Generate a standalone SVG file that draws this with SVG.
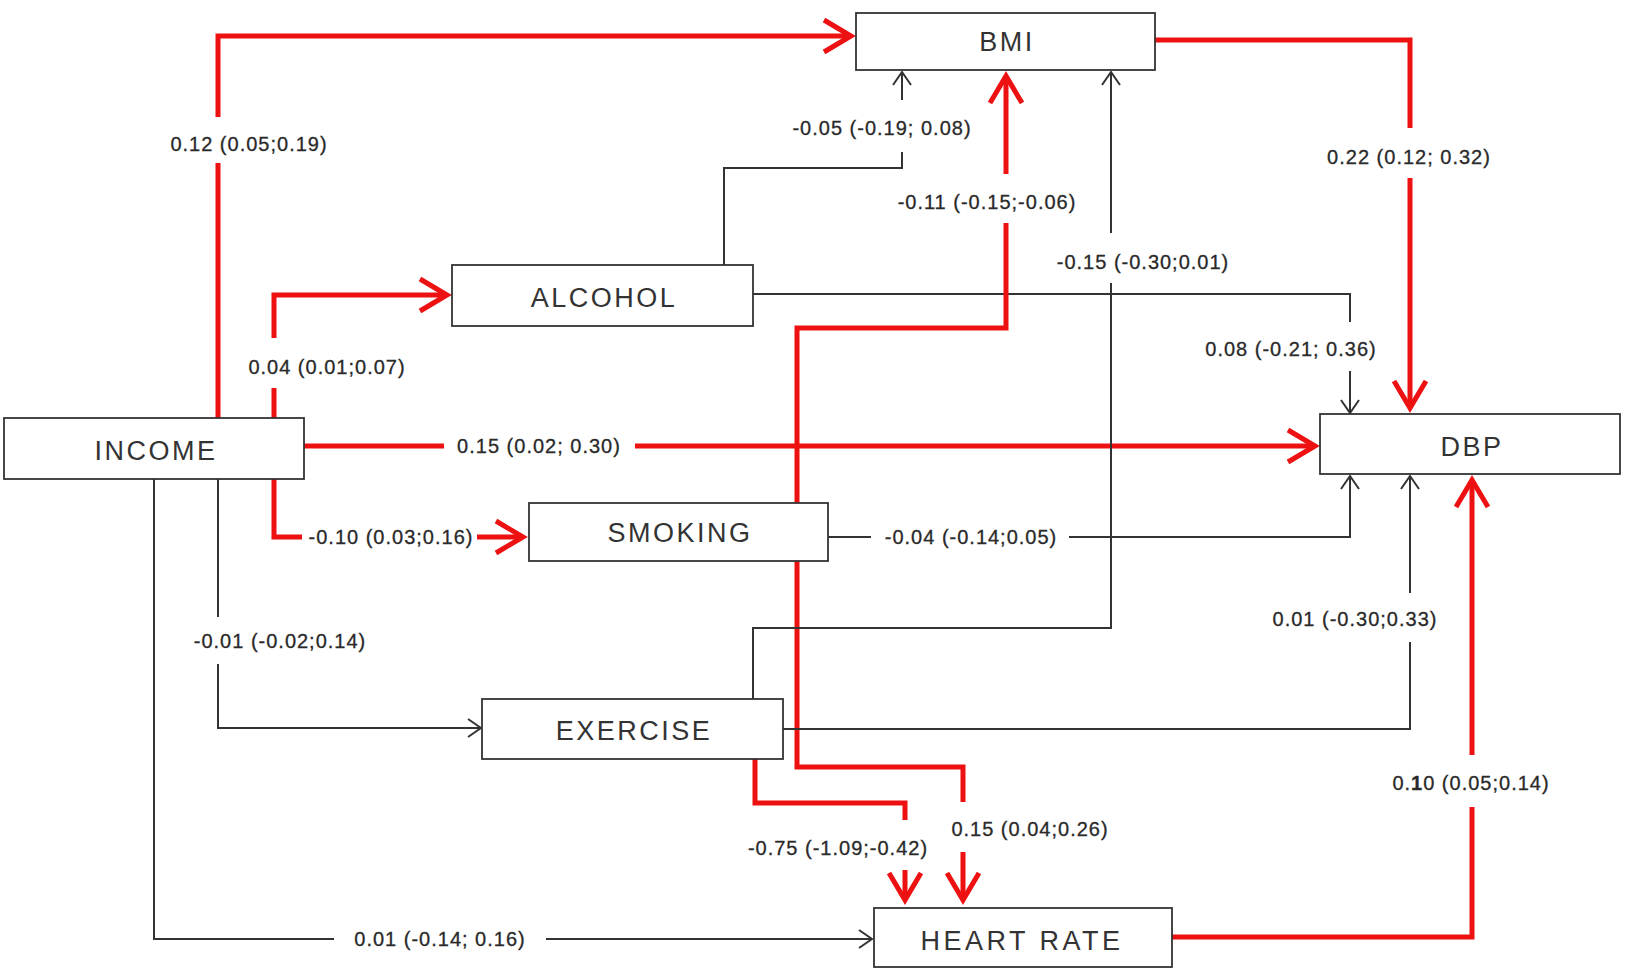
<svg xmlns="http://www.w3.org/2000/svg" width="1630" height="969" viewBox="0 0 1630 969">
<style>
.box{fill:#fff;stroke:#333;stroke-width:1.8}
.nt{font-family:"Liberation Sans",Arial,sans-serif;font-size:27px;fill:#333;text-anchor:middle;letter-spacing:2.5px}
.lb{font-family:"Liberation Sans",Arial,sans-serif;font-size:20px;fill:#2a2a2a;stroke:#2a2a2a;stroke-width:0.3;text-anchor:middle;letter-spacing:1px}
.r{fill:none;stroke:#ee1111;stroke-width:5}
.k{fill:none;stroke:#333;stroke-width:2}
</style>
<defs>
<marker id="ar" viewBox="-34 -22 40 44" refX="0" refY="0" markerWidth="40" markerHeight="44" markerUnits="userSpaceOnUse" orient="auto">
<path d="M-27,-16 L0,0 L-27,16" fill="none" stroke="#ee1111" stroke-width="5"/>
</marker>
<marker id="ak" viewBox="-18 -12 22 24" refX="0" refY="0" markerWidth="22" markerHeight="24" markerUnits="userSpaceOnUse" orient="auto">
<path d="M-13,-9 L0,0 L-13,9" fill="none" stroke="#333" stroke-width="2"/>
</marker>
</defs>
<rect width="1630" height="969" fill="#fff"/>
<g id="connectors">
<path class="r" d="M218,418 L218,163 M218,117 L218,36 L851,36" marker-end="url(#ar)"/>
<path class="r" d="M274,418 L274,388 M274,338 L274,295 L447,295" marker-end="url(#ar)"/>
<path class="r" d="M304,446 L444,446 M635,446 L1315,446" marker-end="url(#ar)"/>
<path class="r" d="M274,479 L274,537 L302,537 M477,537 L523,537" marker-end="url(#ar)"/>
<path class="k" d="M218,479 L218,617 M218,664 L218,728 L481,728" marker-end="url(#ak)"/>
<path class="k" d="M154,479 L154,939 L334,939 M546,939 L872,939" marker-end="url(#ak)"/>
<path class="k" d="M724,265 L724,168 L902,168 L902,152 M902,100 L902,72" marker-end="url(#ak)"/>
<path class="k" d="M753,294 L1350,294 L1350,322 M1350,371 L1350,413" marker-end="url(#ak)"/>
<path class="r" d="M797,503 L797,328 L1006,328 L1006,223 M1006,174 L1006,76" marker-end="url(#ar)"/>
<path class="r" d="M797,561 L797,767 L963,767 L963,802 M963,852 L963,900" marker-end="url(#ar)"/>
<path class="k" d="M828,537 L871,537 M1069,537 L1350,537 L1350,476" marker-end="url(#ak)"/>
<path class="k" d="M753,699 L753,628 L1111,628 L1111,283 M1111,233 L1111,72" marker-end="url(#ak)"/>
<path class="k" d="M783,729 L1410,729 L1410,642 M1410,593 L1410,476" marker-end="url(#ak)"/>
<path class="r" d="M755,759 L755,803 L905,803 L905,820 M905,870 L905,900" marker-end="url(#ar)"/>
<path class="r" d="M1155,40 L1410,40 L1410,128 M1410,178 L1410,408" marker-end="url(#ar)"/>
<path class="r" d="M1172,937 L1472,937 L1472,807 M1472,755 L1472,480" marker-end="url(#ar)"/>
</g>
<g id="labels">
<text class="lb" x="249" y="151">0.12 (0.05;0.19)</text>
<text class="lb" x="327" y="374">0.04 (0.01;0.07)</text>
<text class="lb" x="539" y="453">0.15 (0.02; 0.30)</text>
<text class="lb" x="391" y="544">-0.10 (0.03;0.16)</text>
<text class="lb" x="280" y="648">-0.01 (-0.02;0.14)</text>
<text class="lb" x="440" y="946">0.01 (-0.14; 0.16)</text>
<text class="lb" x="882" y="135">-0.05 (-0.19; 0.08)</text>
<text class="lb" x="1291" y="356">0.08 (-0.21; 0.36)</text>
<text class="lb" x="987" y="209">-0.11 (-0.15;-0.06)</text>
<text class="lb" x="1030" y="836">0.15 (0.04;0.26)</text>
<text class="lb" x="971" y="544">-0.04 (-0.14;0.05)</text>
<text class="lb" x="1143" y="269">-0.15 (-0.30;0.01)</text>
<text class="lb" x="1355" y="626">0.01 (-0.30;0.33)</text>
<text class="lb" x="838" y="855">-0.75 (-1.09;-0.42)</text>
<text class="lb" x="1409" y="164">0.22 (0.12; 0.32)</text>
<text class="lb" x="1471" y="790">0.<tspan font-weight="bold">1</tspan>0 (0.05;0.14)</text>
</g>
<g id="BMI"><rect class="box" x="856" y="13" width="299" height="57"/><text class="nt" x="1007" y="51">BMI</text></g>
<g id="ALCOHOL"><rect class="box" x="452" y="265" width="301" height="61"/><text class="nt" x="604" y="307">ALCOHOL</text></g>
<g id="INCOME"><rect class="box" x="4" y="418" width="300" height="61"/><text class="nt" x="156" y="460">INCOME</text></g>
<g id="DBP"><rect class="box" x="1320" y="414" width="300" height="60"/><text class="nt" x="1472" y="456">DBP</text></g>
<g id="SMOKING"><rect class="box" x="529" y="503" width="299" height="58"/><text class="nt" x="680" y="542">SMOKING</text></g>
<g id="EXERCISE"><rect class="box" x="482" y="699" width="301" height="60"/><text class="nt" x="634" y="740">EXERCISE</text></g>
<g id="HEART_RATE"><rect class="box" x="874" y="908" width="298" height="59"/><text class="nt" x="1022" y="950" style="letter-spacing:3.5px">HEART RATE</text></g>
</svg>
